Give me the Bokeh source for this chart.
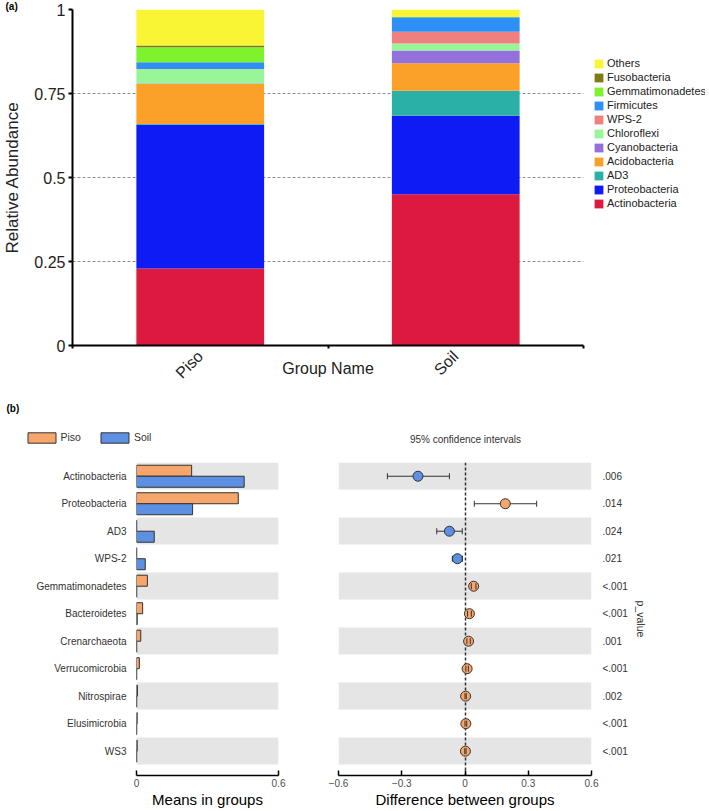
import math
from bokeh.plotting import figure
from bokeh.models import (ColumnDataSource, FixedTicker, Legend, LegendItem, Range1d, Label)
from bokeh.layouts import column, row
from bokeh.embed import file_html
from bokeh.resources import INLINE

FONT = "Liberation Sans"

# ---------------- data: panel (a) ----------------
groups = ["Piso", "Soil"]
group_pos = [0.5, 1.5]
phyla = ["Actinobacteria", "Proteobacteria", "AD3", "Acidobacteria", "Cyanobacteria",
         "Chloroflexi", "WPS-2", "Firmicutes", "Gemmatimonadetes", "Fusobacteria", "Others"]
piso_abund = [0.229, 0.428, 0.002, 0.119, 0.002, 0.042, 0.001, 0.020, 0.045, 0.005, 0.107]
soil_abund = [0.450, 0.234, 0.074, 0.082, 0.038, 0.021, 0.035, 0.043, 0.001, 0.000, 0.022]
phyla_colors = ["#DC1A40", "#0F1BF5", "#2BB0A8", "#FBA12A", "#9370DB",
                "#98F598", "#F08080", "#2E8FF5", "#7FF22E", "#7F7A14", "#F9F534"]
y_ticks_a = [0, 0.25, 0.5, 0.75, 1]
y_labels_a = ["0", "0.25", "0.5", "0.75", "1"]

# ---------------- data: panel (b) ----------------
taxa = ["Actinobacteria", "Proteobacteria", "AD3", "WPS-2", "Gemmatimonadetes", "Bacteroidetes",
        "Crenarchaeota", "Verrucomicrobia", "Nitrospirae", "Elusimicrobia", "WS3"]
piso_mean = [0.233, 0.430, 0.001, 0.001, 0.046, 0.026, 0.018, 0.012, 0.004, 0.003, 0.003]
soil_mean = [0.455, 0.237, 0.075, 0.037, 0.001, 0.003, 0.001, 0.001, 0.001, 0.001, 0.001]
diff = [-0.223, 0.191, -0.074, -0.036, 0.041, 0.021, 0.017, 0.010, 0.003, 0.004, 0.002]
ci_low = [-0.368, 0.044, -0.134, -0.060, 0.030, 0.012, 0.009, 0.004, 0.000, 0.000, -0.001]
ci_high = [-0.074, 0.340, -0.013, -0.012, 0.052, 0.030, 0.025, 0.016, 0.006, 0.008, 0.005]
pvals = [".006", ".014", ".024", ".021", "<.001", "<.001", ".001", "<.001", ".002", "<.001", "<.001"]
mean_ticks = [0, 0.6]
mean_labels = ["0", "0.6"]
diff_ticks = [-0.6, -0.3, 0, 0.3, 0.6]
diff_labels = ["\u22120.6", "\u22120.3", "0", "0.3", "0.6"]

PISO_C = "#F6A56B"
SOIL_C = "#5D8FE3"
BAND_C = "#E5E5E5"
EDGE_C = "#333333"


def blank_fig(w, h, **kw):
    f = figure(width=w, height=h, x_axis_type=None, y_axis_type=None,
               output_backend="svg", toolbar_location=None,
               min_border_left=0, min_border_right=0, min_border_top=0, min_border_bottom=0, **kw)
    f.outline_line_color = None
    f.grid.visible = False
    return f


# ================= panel (a) =================
top = figure(width=590, height=400, x_range=Range1d(0, 2), y_range=Range1d(0, 1),
             output_backend="svg", toolbar_location=None,
             min_border_left=72, min_border_right=7, min_border_top=8, min_border_bottom=55)
top.outline_line_color = None
top.title.text = "(a)"
top.title.align = "left"
top.title.offset = -67
top.title.standoff = -4
top.title.text_font = FONT
top.title.text_font_size = "10px"
top.title.text_font_style = "bold"
top.title.text_color = "black"

data_a = {"x": group_pos}
for ph, a, b in zip(phyla, piso_abund, soil_abund):
    data_a[ph] = [a, b]
src_a = ColumnDataSource(data_a)
top.vbar_stack(phyla, x="x", width=0.5, color=phyla_colors, source=src_a, line_width=0)

top.xgrid.visible = False
top.ygrid.ticker = FixedTicker(ticks=[0.25, 0.5, 0.75])
top.ygrid.grid_line_color = "#8f8f8f"
top.ygrid.grid_line_dash = "3 2"
top.ygrid.grid_line_width = 1

ya = top.yaxis[0]
ya.ticker = FixedTicker(ticks=y_ticks_a)
ya.major_label_overrides = dict(zip(y_ticks_a, y_labels_a))
ya.axis_label = "Relative Abundance"
ya.axis_label_text_font = FONT
ya.axis_label_text_font_size = "17px"
ya.axis_label_text_font_style = "normal"
ya.axis_label_text_color = "#222222"
ya.axis_label_standoff = 9
ya.major_label_text_font = FONT
ya.major_label_text_font_size = "16px"
ya.major_label_text_color = "#222222"
ya.major_label_standoff = 3
ya.axis_line_width = 2
ya.axis_line_color = "black"
ya.major_tick_out = 4
ya.major_tick_in = 0
ya.major_tick_line_width = 2
ya.minor_tick_line_color = None

xa = top.xaxis[0]
xa.ticker = FixedTicker(ticks=group_pos, minor_ticks=[0, 1, 2])
xa.major_label_overrides = dict(zip(group_pos, groups))
xa.major_label_orientation = math.pi / 4
xa.major_label_text_font = FONT
xa.major_label_text_font_size = "16px"
xa.major_label_text_color = "#222222"
xa.major_label_standoff = 2
xa.major_tick_line_color = None
xa.minor_tick_out = 3
xa.minor_tick_in = 0
xa.minor_tick_line_color = "black"
xa.minor_tick_line_width = 2
xa.axis_line_width = 2
xa.axis_line_color = "black"
xa.axis_label = "Group Name"
xa.axis_label_text_font = FONT
xa.axis_label_text_font_size = "16px"
xa.axis_label_text_font_style = "normal"
xa.axis_label_text_color = "#222222"
xa.axis_label_standoff = -31

# legend for panel (a), in its own strip to the right (its bars lie far outside its ranges)
leg_a_fig = blank_fig(115, 400, x_range=Range1d(-10, -9), y_range=Range1d(5, 6))
leg_a_rends = leg_a_fig.vbar_stack(phyla, x="x", width=0.5, color=phyla_colors, source=src_a, line_width=0)
leg_a_items = [LegendItem(label=ph, renderers=[r]) for ph, r in zip(phyla, leg_a_rends)]
leg_a_items.reverse()
leg_a = Legend(items=leg_a_items, location=(3, 136), glyph_width=11, glyph_height=11,
               label_height=11, spacing=2, padding=0, margin=0, label_standoff=3,
               label_text_font=FONT, label_text_font_size="11px", label_text_color="#222222",
               border_line_color=None, background_fill_alpha=0)
leg_a_fig.add_layout(leg_a)

# ================= panel (b) =================
n = len(taxa)
ypos = [n - 1 - i for i in range(n)]
band_y0 = [ypos[i] - 0.5 for i in range(0, n, 2)]
band_y1 = [ypos[i] + 0.5 for i in range(0, n, 2)]
y_rng_start = -0.885
y_rng_end = n - 0.5

src_b = ColumnDataSource(dict(
    y=ypos, yp=[v + 0.2 for v in ypos], ys=[v - 0.2 for v in ypos],
    piso=piso_mean, soil=soil_mean, diff=diff, lo=ci_low, hi=ci_high,
    col=[PISO_C if d > 0 else SOIL_C for d in diff]))

# strip between panels: (b), group legend, CI title (its bars lie far outside its ranges)
strip = blank_fig(705, 46, x_range=Range1d(-10, -9), y_range=Range1d(100, 101))
rp_d = strip.hbar(y="yp", left=0, right="piso", height=0.4, source=src_b,
                  fill_color=PISO_C, line_color=EDGE_C, line_width=1)
rs_d = strip.hbar(y="ys", left=0, right="soil", height=0.4, source=src_b,
                  fill_color=SOIL_C, line_color=EDGE_C, line_width=1)
leg_b = Legend(items=[LegendItem(label=groups[0], renderers=[rp_d]), LegendItem(label=groups[1], renderers=[rs_d])],
               orientation="horizontal", location=(23.5, 2.5), glyph_width=35, glyph_height=13,
               label_standoff=2, spacing=16, padding=0, margin=0,
               label_text_font=FONT, label_text_font_size="10.5px", label_text_color="#333333",
               border_line_color=None, background_fill_alpha=0)
strip.add_layout(leg_b)
strip.add_layout(Label(x=6, y=38, x_units="screen", y_units="screen", text="(b)",
                       text_align="left", text_baseline="middle", text_font=FONT,
                       text_font_size="10px", text_font_style="bold", text_color="black"))
strip.add_layout(Label(x=465, y=7, x_units="screen", y_units="screen", text="95% confidence intervals",
                       text_align="center", text_baseline="middle", text_font=FONT,
                       text_font_size="10px", text_color="#333333"))

bl = figure(width=318, height=364, x_range=Range1d(0, 0.6), y_range=Range1d(y_rng_start, y_rng_end),
            output_backend="svg", toolbar_location=None,
            min_border_left=136, min_border_right=40, min_border_top=16, min_border_bottom=34)
bl.outline_line_color = None
bl.grid.visible = False
bl.hstrip(y0=band_y0, y1=band_y1, fill_color=BAND_C, line_color=None)
bl.hbar(y="yp", left=0, right="piso", height=0.4, source=src_b,
        fill_color=PISO_C, line_color=EDGE_C, line_width=1)
bl.hbar(y="ys", left=0, right="soil", height=0.4, source=src_b,
        fill_color=SOIL_C, line_color=EDGE_C, line_width=1)

yl = bl.yaxis[0]
yl.ticker = FixedTicker(ticks=ypos)
yl.major_label_overrides = dict(zip(ypos, taxa))
yl.major_label_text_font = FONT
yl.major_label_text_font_size = "10px"
yl.major_label_text_color = "#333333"
yl.major_label_standoff = 4
yl.axis_line_color = None
yl.major_tick_line_color = None
yl.minor_tick_line_color = None

xl = bl.xaxis[0]
xl.ticker = FixedTicker(ticks=mean_ticks)
xl.major_label_overrides = dict(zip(mean_ticks, mean_labels))
xl.axis_label = "Means in groups"
xl.axis_label_text_font = FONT
xl.axis_label_text_font_size = "15px"
xl.axis_label_text_font_style = "normal"
xl.axis_label_text_color = "black"
xl.axis_label_standoff = 1
xl.major_label_text_font = FONT
xl.major_label_text_font_size = "10px"
xl.major_label_text_color = "#4d4d4d"
xl.major_label_standoff = 3
xl.axis_line_width = 1.5
xl.axis_line_color = "black"
xl.major_tick_in = 5
xl.major_tick_out = 0
xl.major_tick_line_width = 1.5
xl.minor_tick_line_color = None

br = figure(width=387, height=364, x_range=Range1d(-0.6, 0.6), y_range=Range1d(y_rng_start, y_rng_end),
            y_axis_location="right", output_backend="svg", toolbar_location=None,
            min_border_left=20, min_border_right=114, min_border_top=16, min_border_bottom=34)
br.outline_line_color = None
br.grid.visible = False

br.hstrip(y0=band_y0, y1=band_y1, fill_color=BAND_C, line_color=None)
br.vspan(x=[0], line_color=EDGE_C, line_dash="3 2", line_width=1.5)
br.segment(x0="lo", x1="hi", y0="y", y1="y", source=src_b, line_color=EDGE_C, line_width=1)
br.scatter(x="diff", y="y", source=src_b, size=10, fill_color="col", line_color=EDGE_C, line_width=1)
br.scatter(x="lo", y="y", source=src_b, marker="dash", angle=math.pi / 2, size=6,
           line_color=EDGE_C, line_width=1)
br.scatter(x="hi", y="y", source=src_b, marker="dash", angle=math.pi / 2, size=6,
           line_color=EDGE_C, line_width=1)

yr = br.yaxis[0]
yr.ticker = FixedTicker(ticks=ypos)
yr.major_label_overrides = dict(zip(ypos, pvals))
yr.major_label_text_font = FONT
yr.major_label_text_font_size = "10px"
yr.major_label_text_color = "#333333"
yr.major_label_standoff = 5
yr.axis_line_color = None
yr.major_tick_line_color = None
yr.minor_tick_line_color = None
yr.axis_label = "p_value"
yr.axis_label_text_font = FONT
yr.axis_label_text_font_size = "10.5px"
yr.axis_label_text_font_style = "normal"
yr.axis_label_text_color = "#333333"
yr.axis_label_standoff = 4

xr = br.xaxis[0]
xr.ticker = FixedTicker(ticks=diff_ticks)
xr.major_label_overrides = dict(zip(diff_ticks, diff_labels))
xr.axis_label = "Difference between groups"
xr.axis_label_text_font = FONT
xr.axis_label_text_font_size = "15px"
xr.axis_label_text_font_style = "normal"
xr.axis_label_text_color = "black"
xr.axis_label_standoff = 1
xr.major_label_text_font = FONT
xr.major_label_text_font_size = "10px"
xr.major_label_text_color = "#4d4d4d"
xr.major_label_standoff = 3
xr.axis_line_width = 1.5
xr.axis_line_color = "black"
xr.major_tick_in = 5
xr.major_tick_out = 0
xr.major_tick_line_width = 1.5
xr.minor_tick_line_color = None

layout = column(row(top, leg_a_fig), strip, row(bl, br))
open("out.html", "w").write(file_html(layout, INLINE))
